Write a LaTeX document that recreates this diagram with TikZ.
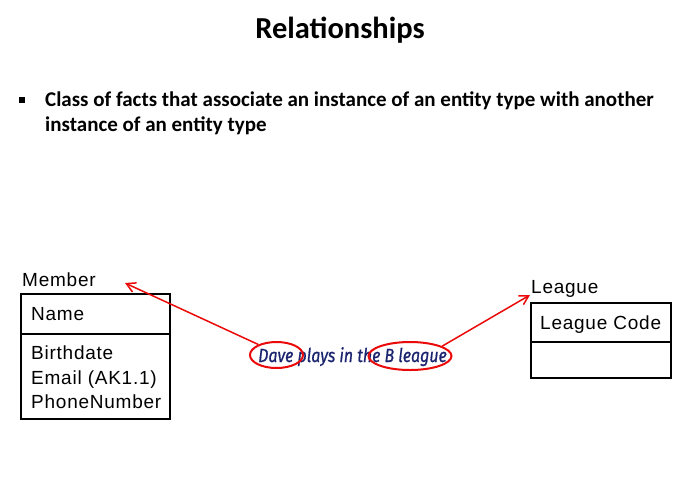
\documentclass[tikz,border=0pt]{standalone}
\usepackage{fontspec}
\setmainfont{Carlito}
\newfontfamily\boxfont[LetterSpace=4]{Liberation Sans}
\newfontfamily\handfont{Fira Sans}
\usetikzlibrary{arrows.meta,shapes.geometric}
\definecolor{noteblue}{RGB}{25,35,110}
\definecolor{markred}{RGB}{235,10,10}
\tikzset{
  x=1pt, y=-1pt,
  compartment/.style={draw=black, line width=1.6pt, inner sep=0pt, anchor=north west},
  boxtext/.style={font=\boxfont\fontsize{19}{22}\selectfont, anchor=base west, inner sep=0pt},
  bullettext/.style={font=\bfseries\fontsize{21}{25}\selectfont, anchor=base west, inner sep=0pt},
  marker/.style={draw=markred, line width=2pt, ellipse, inner sep=0pt},
  pointer/.style={draw=markred, line width=1.5pt, -{Straight Barb[length=9pt,width=10pt,line width=1.5pt]}}
}
\begin{document}
\begin{tikzpicture}
\useasboundingbox (0,0) rectangle (687,491);
\fill[white] (0,0) rectangle (687,491);

% heading and bullet
\node[font=\bfseries\fontsize{30.5}{34}\selectfont, anchor=base, inner sep=0pt] (title) at (340,38) {Relationships};
\node[fill=black, minimum size=6pt, inner sep=0pt] (bullet) at (21.5,100) {};
\node[bullettext] (factone) at (45,106) {Class of facts that associate an instance of an entity type with another};
\node[bullettext] (facttwo) at (45,131) {instance of an entity type};

% Member entity
\node[boxtext] (memberlbl) at (22,286) {Member};
\node[compartment, minimum width=149pt, minimum height=40pt] (memberkey) at (20,293) {};
\node[compartment, minimum width=149pt, minimum height=85pt] (memberattr) at (20,333) {};
\node[boxtext] (mname) at (31,320) {Name};
\node[boxtext] (mbirth) at (31,359) {Birthdate};
\node[boxtext] (memail) at (31,384) {Email (AK1.1)};
\node[boxtext] (mphone) at (31,408) {PhoneNumber};

% League entity
\node[boxtext] (leaguelbl) at (531,293) {League};
\node[compartment, minimum width=140pt, minimum height=39pt] (leaguekey) at (530,302) {};
\node[compartment, minimum width=140pt, minimum height=36pt] (leagueattr) at (530,341) {};
\node[boxtext] (lcode) at (540,329) {League Code};

% example fact with marked words
\node[font=\handfont\itshape\fontsize{19}{22}\selectfont\addfontfeature{FakeBold=0.8}, text=noteblue, inner sep=0pt, anchor=base] (example) at (352.5,362)
  {\scalebox{0.84}[1]{Dave plays in the B league}};
\node[marker, minimum width=53pt, minimum height=26pt] (daveoval) at (276.5,355) {};
\node[marker, minimum width=83pt, minimum height=28pt] (leagueoval) at (410,356) {};
\coordinate (membertip) at (125,283);
\coordinate (leaguetip) at (530,295);
\draw[pointer] (daveoval.150) -- (membertip);
\draw[pointer] (leagueoval.17) -- (leaguetip);
\end{tikzpicture}
\end{document}
